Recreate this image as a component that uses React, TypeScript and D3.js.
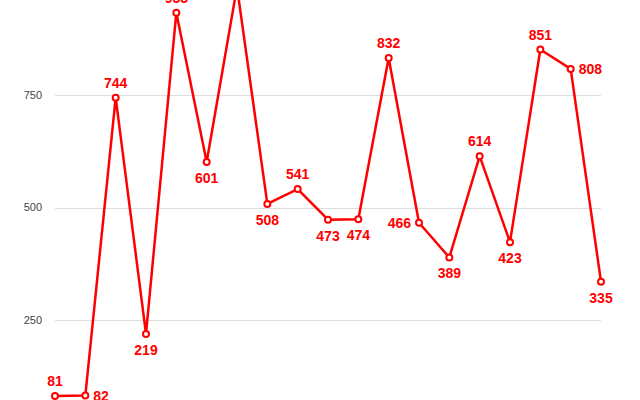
import * as React from 'react';
import * as d3 from 'd3';

// values (two peaks run off the top of the frame)
const values = [81, 82, 744, 219, 933, 601, 990, 508, 541, 473, 474, 832, 466, 389, 614, 423, 851, 808, 335];
const labelSide = ['top', 'right', 'top', 'bottom', 'top', 'bottom', 'top', 'bottom', 'top', 'bottom', 'bottom', 'top', 'left', 'bottom', 'top', 'bottom', 'top', 'right', 'bottom'];
const yTicks = [250, 500, 750];

const W = 640;
const H = 400;
const RED = '#ff0000';
const FONT = "Helvetica, Arial, 'Liberation Sans', sans-serif";

const App = () => {
    const x = d3.scalePoint<number>()
        .domain(values.map((_, i) => i))
        .range([55, 601]);
    const y = d3.scaleLinear()
        .domain([0, 1000])
        .range([432.5, -17.5]);

    const line = d3.line<number>()
        .x((_, i) => x(i)!)
        .y(d => y(d));

    const labelPos = (side: string, cx: number, cy: number) => {
        if (side === 'top') return { x: cx, y: cy - 10, anchor: 'middle' };
        if (side === 'bottom') return { x: cx, y: cy + 21, anchor: 'middle' };
        if (side === 'left') return { x: cx - 8, y: cy + 5, anchor: 'end' };
        return { x: cx + 8, y: cy + 5, anchor: 'start' };
    };

    return (
        <svg width={W} height={H} style={{ position: 'absolute', left: 0, top: 0, overflow: 'hidden', background: '#fff' }}>
            <g className="grid">
                {yTicks.map(t => (
                    <g key={t}>
                        <line x1={55} x2={601} y1={Math.round(y(t)) + 0.5} y2={Math.round(y(t)) + 0.5} stroke="#dddddd" strokeWidth={1} />
                        <text x={42} y={y(t)} dy="0.35em" textAnchor="end" fontFamily={FONT} fontSize={11} fill="#444">{t}</text>
                    </g>
                ))}
            </g>
            <path d={line(values)!} fill="none" stroke={RED} strokeWidth={2.5} strokeLinejoin="round" />
            {values.map((v, i) => (
                <circle key={i} cx={x(i)} cy={y(v)} r={3} fill="#fff" stroke={RED} strokeWidth={2} />
            ))}
            {values.map((v, i) => {
                const p = labelPos(labelSide[i], x(i)!, y(v));
                return (
                    <text key={i} x={p.x} y={p.y} textAnchor={p.anchor} fontFamily={FONT} fontWeight="bold" fontSize={14} fill={RED}>{v}</text>
                );
            })}
        </svg>
    );
};

export default App;
